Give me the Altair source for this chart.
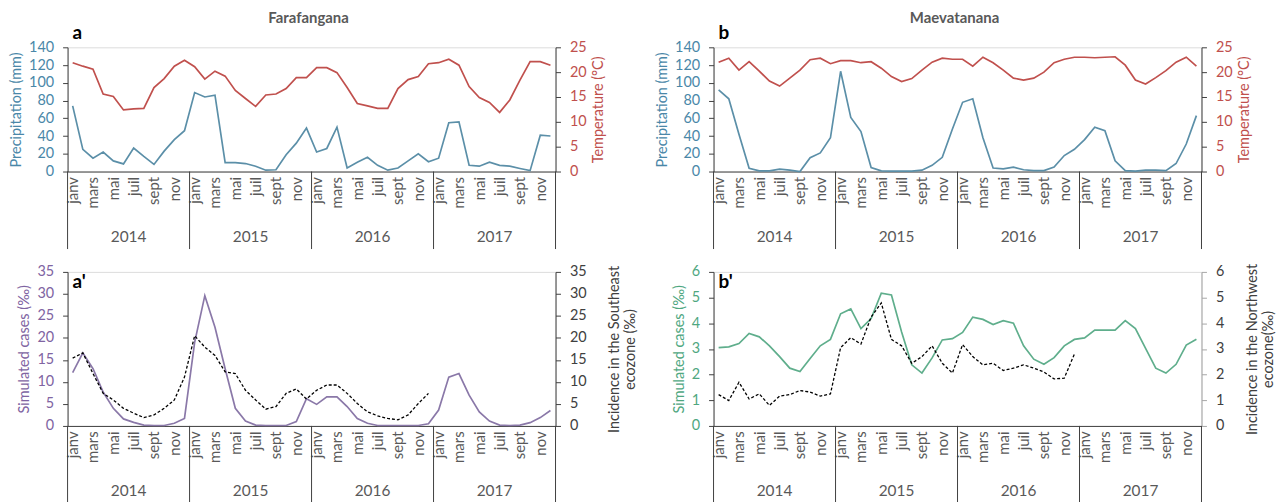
import altair as alt
import pandas as pd

# ---------------- data ----------------
months = ['janv', 'févr', 'mars', 'avr', 'mai', 'juin', 'juil', 'août', 'sept', 'oct', 'nov', 'déc']
years = ['2014', '2015', '2016', '2017']

# Farafangana (a)
fara_precip = [74, 25, 15, 22, 12, 8.6, 26.5, 17, 8, 23, 36, 46,
               89, 84, 86, 10, 10, 9, 6, 1.5, 2, 19, 32, 49,
               22, 26, 50, 4, 10.5, 16, 7, 1.5, 4, 12, 20, 11,
               15, 55, 56, 7, 6, 10.5, 7, 6, 3.4, 1, 41, 40]
fara_temp = [21.9, 21.2, 20.6, 15.6, 15.1, 12.4, 12.6, 12.7, 16.9, 18.7, 21.2, 22.4,
             21.1, 18.6, 20.2, 19.2, 16.3, 14.7, 13.1, 15.4, 15.6, 16.7, 18.9, 18.9,
             20.9, 20.9, 19.9, 16.9, 13.7, 13.2, 12.7, 12.7, 16.7, 18.5, 19.1, 21.7,
             21.9, 22.6, 21.4, 17.1, 14.9, 13.9, 11.9, 14.4, 18.4, 22.1, 22.1, 21.4]

# Maevatanana (b)
maev_precip = [92, 82, 42, 3.7, 0.7, 0.7, 2.6, 1.5, 0, 15.6, 21, 38,
               113, 61, 45, 4.5, 0.7, 0.5, 0.5, 0.5, 1.5, 7, 16, 48,
               78, 82, 38, 4, 3, 5, 2, 1, 1, 5, 18, 25,
               36, 50, 46, 12, 1, 0.5, 1.5, 1.5, 1, 9, 31, 63]
maev_temp = [22.0, 22.8, 20.4, 22.1, 20.2, 18.2, 17.2, 18.8, 20.4, 22.5, 22.8, 21.7,
             22.3, 22.3, 21.9, 22.1, 20.8, 19.1, 18.1, 18.7, 20.4, 22.0, 22.8, 22.6,
             22.6, 21.2, 23.0, 21.9, 20.4, 18.8, 18.4, 18.8, 20.0, 21.9, 22.6, 23.0,
             23.0, 22.9, 23.0, 23.1, 21.4, 18.4, 17.6, 18.9, 20.3, 22.0, 23.0, 21.2]

# Simulated cases / observed incidence (a')
fara_sim = [12.1, 16.6, 13.0, 7.7, 4.0, 1.6, 0.8, 0.2, 0.1, 0.1, 0.6, 1.7,
            19.0, 29.6, 22.4, 13.0, 4.0, 1.1, 0.2, 0.1, 0.1, 0.1, 1.0, 6.2,
            4.9, 6.6, 6.6, 4.4, 1.7, 0.6, 0.1, 0.1, 0.1, 0.1, 0.1, 0.5,
            3.6, 11.1, 11.9, 7.0, 3.2, 1.1, 0.2, 0.1, 0.2, 0.75, 1.9, 3.5]
fara_inc = [15.4, 16.6, 11.9, 7.4, 5.9, 4.0, 2.9, 1.9, 2.5, 4.0, 5.9, 11.1,
            20.5, 17.9, 16.0, 12.3, 11.9, 8.1, 5.9, 3.8, 4.4, 7.4, 8.4, 6.1,
            8.1, 9.3, 9.3, 7.4, 5.1, 3.2, 2.3, 1.7, 1.4, 2.5, 5.1, 7.4]

# Simulated cases / observed incidence (b')
maev_sim = [3.05, 3.08, 3.21, 3.6, 3.47, 3.12, 2.7, 2.25, 2.12, 2.63, 3.12, 3.37,
            4.37, 4.56, 3.79, 4.18, 5.17, 5.10, 3.66, 2.38, 2.06, 2.65, 3.35, 3.4,
            3.64, 4.24, 4.15, 3.95, 4.1, 4.0, 3.12, 2.6, 2.4, 2.66, 3.12, 3.37,
            3.43, 3.73, 3.73, 3.73, 4.1, 3.79, 3.02, 2.25, 2.06, 2.4, 3.15, 3.38]
maev_inc = [1.22, 0.99, 1.7, 1.05, 1.25, 0.8, 1.16, 1.22, 1.38, 1.32, 1.16, 1.25,
            3.05, 3.44, 3.19, 4.24, 4.79, 3.37, 3.12, 2.44, 2.7, 3.12, 2.44, 2.06,
            3.17, 2.7, 2.38, 2.44, 2.16, 2.25, 2.38, 2.25, 2.1, 1.83, 1.86, 2.8]

# ---------------- style ----------------
FONT = 'Lato'
W = 491
H_TOP = 125
H_BOT = 155
BLUE_LINE, BLUE_TXT = '#5b8fa8', '#4a87a8'
RED_LINE, RED_TXT = '#c0504d', '#c0504d'
PURPLE_LINE, PURPLE_TXT = '#8a78a8', '#8064a2'
GREEN_LINE, GREEN_TXT = '#5fae8c', '#4fa77f'
AX = '#404040'
GRAY_TXT = '#595959'

label_expr = "[" + ",".join("'%s'" % m for m in months) + "][floor(datum.value) % 12]"

X_SCALE = alt.Scale(domain=[0, 48], nice=False, zero=False)
X_AXIS = alt.Axis(values=[i + 0.5 for i in range(0, 48, 2)], labelExpr=label_expr,
                  labelAngle=270, labelAlign='right', labelBaseline='middle',
                  ticks=False, grid=False, title=None, domainColor=AX,
                  labelColor=GRAY_TXT, labelFontSize=15, labelPadding=5,
                  labelFont=FONT, labelOverlap=False, labelFlush=False)


def series_df(values, name):
    return pd.DataFrame({'x': [i + 0.5 for i in range(len(values))], name: values})


def xenc():
    return alt.X('x:Q', scale=X_SCALE, axis=X_AXIS)


def y_axis(orient, title, values, title_color, label_color, dom_color):
    return alt.Axis(orient=orient, title=title, values=values, grid=False, tickSize=5,
                    tickColor=dom_color, domainColor=dom_color, labelColor=label_color,
                    titleColor=title_color, labelFontSize=14.5, titleFontSize=14.5,
                    labelFont=FONT, titleFont=FONT, titleFontWeight='normal',
                    labelPadding=9, titlePadding=5, titleAngle=270,
                    titleBaseline=('bottom' if orient == 'left' else 'top'))


def deco(H, letter, letter_y, title=None):
    sep = pd.DataFrame({'x': [0, 12, 24, 36, 48]})
    yrs = pd.DataFrame({'x': [6, 18, 30, 42], 'year': years})
    rules = alt.Chart(sep).mark_rule(color=AX, strokeWidth=1).encode(
        x=xenc(), y=alt.value(H), y2=alt.value(H + 78))
    ytext = alt.Chart(yrs).mark_text(font=FONT, fontSize=15.5, color=GRAY_TXT, baseline='middle').encode(
        x=xenc(), y=alt.value(H + 66), text='year:N')
    lt = alt.Chart(pd.DataFrame({'t': [letter]})).mark_text(
        font=FONT, fontSize=19, fontWeight='bold', color='black', align='left',
        baseline='alphabetic').encode(x=alt.value(5), y=alt.value(letter_y), text='t:N')
    layers = [rules, ytext, lt]
    if title:
        tt = alt.Chart(pd.DataFrame({'t': [title]})).mark_text(
            font=FONT, fontSize=15, fontWeight='bold', color=GRAY_TXT, align='center',
            baseline='alphabetic').encode(x=alt.value(W / 2 - 3), y=alt.value(-24), text='t:N')
        layers.append(tt)
    return layers


def climate_panel(precip, temp, letter, title):
    p = alt.Chart(series_df(precip, 'precip')).mark_line(color=BLUE_LINE, strokeWidth=1.7).encode(
        x=xenc(),
        y=alt.Y('precip:Q', scale=alt.Scale(domain=[0, 140], nice=False),
                axis=y_axis('left', 'Precipitation (mm)', list(range(0, 141, 20)),
                            BLUE_TXT, BLUE_TXT, AX)))
    t = alt.Chart(series_df(temp, 'temp')).mark_line(color=RED_LINE, strokeWidth=1.7).encode(
        x=xenc(),
        y=alt.Y('temp:Q', scale=alt.Scale(domain=[0, 25], nice=False),
                axis=y_axis('right', 'Temperature (°C)', list(range(0, 26, 5)),
                            RED_TXT, RED_TXT, AX)))
    return alt.layer(p, t, *deco(H_TOP, letter, -8, title)).resolve_scale(y='independent').properties(
        width=W, height=H_TOP)


def cases_panel(sim, inc, top, step, color_line, color_txt, right_title, right_dom_color, letter):
    ticks = [v for v in range(0, top + 1, step)]
    s = alt.Chart(series_df(sim, 'sim')).mark_line(color=color_line, strokeWidth=1.7).encode(
        x=xenc(),
        y=alt.Y('sim:Q', scale=alt.Scale(domain=[0, top], nice=False),
                axis=y_axis('left', 'Simulated cases (‰)', ticks, color_txt, color_txt, AX)))
    d = alt.Chart(series_df(inc, 'inc')).mark_line(color='black', strokeWidth=1.3,
                                                   strokeDash=[3, 2]).encode(
        x=xenc(),
        y=alt.Y('inc:Q', scale=alt.Scale(domain=[0, top], nice=False),
                axis=y_axis('right', right_title, ticks, AX, AX, right_dom_color)))
    return alt.layer(s, d, *deco(H_BOT, letter, 16)).resolve_scale(y='independent').properties(
        width=W, height=H_BOT)


a = climate_panel(fara_precip, fara_temp, 'a', 'Farafangana')
b = climate_panel(maev_precip, maev_temp, 'b', 'Maevatanana')
a2 = cases_panel(fara_sim, fara_inc, 35, 5, PURPLE_LINE, PURPLE_TXT,
                 ['Incidence in the Southeast', 'ecozone (‰)'], AX, "a'")
b2 = cases_panel(maev_sim, maev_inc, 6, 1, GREEN_LINE, GREEN_TXT,
                 ['Incidence in the Northwest', 'ecozone(‰)'], '#a6a6a6', "b'")

chart = alt.concat(a, b, a2, b2, columns=2, spacing={'row': 101, 'column': 159},
                   bounds='flush').properties(
    padding={'left': 8, 'top': 9, 'right': 5, 'bottom': 5}
).configure_view(stroke=None).configure(background='white')

chart.save("out.html", embed_options={"renderer": "svg", "actions": False})
